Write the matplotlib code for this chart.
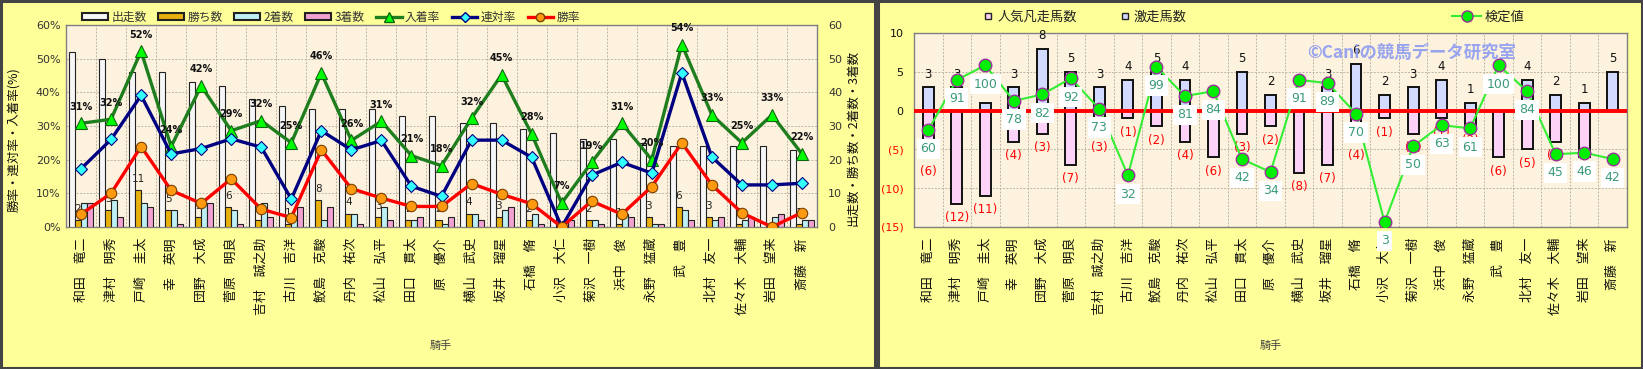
import matplotlib
matplotlib.use('Agg')
import matplotlib.pyplot as plt
from matplotlib.patches import Rectangle, Patch
from matplotlib.lines import Line2D
import numpy as np

plt.rcParams['font.family'] = ['Noto Sans CJK JP', 'DejaVu Sans']

# ---------------- data ----------------
jockeys = ["和田 竜二", "津村 明秀", "戸崎 圭太", "幸 英明", "団野 大成", "菅原 明良",
           "吉村 誠之助", "古川 吉洋", "鮫島 克駿", "丹内 祐次", "松山 弘平", "田口 貫太",
           "原 優介", "横山 武史", "坂井 瑠星", "石橋 脩", "小沢 大仁", "菊沢 一樹",
           "浜中 俊", "永野 猛蔵", "武 豊", "北村 友一", "佐々木 大輔", "岩田 望来", "斎藤 新"]

runs    = [52, 50, 46, 46, 43, 42, 38, 36, 35, 35, 35, 33, 33, 31, 31, 29, 28, 26, 26, 25, 24, 24, 24, 24, 23]
wins    = [2, 5, 11, 5, 3, 6, 2, 1, 8, 4, 3, 2, 2, 4, 3, 2, 0, 2, 1, 3, 6, 3, 1, 0, 1]
seconds = [7, 8, 7, 5, 7, 5, 7, 2, 2, 4, 6, 2, 1, 4, 5, 4, 0, 2, 4, 1, 5, 2, 2, 3, 2]
thirds  = [7, 3, 6, 1, 7, 1, 3, 6, 6, 1, 2, 3, 3, 2, 6, 1, 2, 1, 3, 1, 2, 3, 3, 4, 2]

win_rate    = [3.8, 10.0, 23.9, 10.9, 7.0, 14.3, 5.3, 2.8, 22.9, 11.4, 8.6, 6.1, 6.1, 12.9, 9.7,
               6.9, 0.0, 7.7, 3.8, 12.0, 25.0, 12.5, 4.2, 0.0, 4.3]
rentai_rate = [17.3, 26.0, 39.1, 21.7, 23.3, 26.2, 23.7, 8.3, 28.6, 22.9, 25.7, 12.1, 9.1, 25.8, 25.8,
               20.7, 0.0, 15.4, 19.2, 16.0, 45.8, 20.8, 12.5, 12.5, 13.0]
place_rate  = [30.8, 32.0, 52.2, 23.9, 41.9, 28.6, 31.6, 25.0, 45.7, 25.7, 31.4, 21.2, 18.2, 32.3, 45.2,
               27.6, 7.1, 19.2, 30.8, 20.0, 54.2, 33.3, 25.0, 33.3, 21.7]

gekisou      = [3, 3, 1, 3, 8, 5, 3, 4, 5, 4, 0, 5, 2, 0, 3, 6, 2, 3, 4, 1, 0, 4, 2, 1, 5]
ninki_bonsou = [6, 12, 11, 4, 3, 7, 3, 1, 2, 4, 6, 3, 2, 8, 7, 4, 1, 3, 1, 2, 6, 5, 4, 6, 0]
kentei       = [60, 91, 100, 78, 82, 92, 73, 32, 99, 81, 84, 42, 34, 91, 89, 70, 3, 50, 63, 61, 100, 84, 45, 46, 42]

left_yticks = [0, 10, 20, 30, 40, 50, 60]
right_yticks = [-15, -10, -5, 0, 5, 10]

# ---------------- figure ----------------
W, H = 1643, 369
fig = plt.figure(figsize=(W / 100, H / 100), dpi=100)
fig.patch.set_facecolor('#FFFF99')

def fx(px):
    return px / W

def fy(py):
    return 1 - py / H

PLOT_BG = '#FCF2DE'
GRID_C = '#BDB5A6'
TXT = '#333333'
names_disp = [n.replace(' ', '\u3000') for n in jockeys]
x = np.arange(len(jockeys))

# ================= LEFT CHART =================
ax = fig.add_axes([fx(66), fy(227), fx(817) - fx(66), fy(25) - fy(227)])
ax.set_facecolor(PLOT_BG)
ax.set_xlim(-0.5, len(jockeys) - 0.5)
ax.set_ylim(0, 60)
bw = 0.2
ax.bar(x - 0.3, runs, bw, color='#F6F6F6', edgecolor='#222222', linewidth=0.8, zorder=3)
ax.bar(x - 0.1, wins, bw, color='#E8B00C', edgecolor='#222222', linewidth=0.8, zorder=3)
ax.bar(x + 0.1, seconds, bw, color='#BDEFF4', edgecolor='#222222', linewidth=0.8, zorder=3)
ax.bar(x + 0.3, thirds, bw, color='#F2A2D2', edgecolor='#222222', linewidth=0.8, zorder=3)

ax.plot(x, place_rate, color='#1E7E1E', lw=2.4, marker='^', ms=9,
        mfc='#00FF00', mec='#116611', mew=0.8, zorder=5)
ax.plot(x, rentai_rate, color='#000080', lw=2.4, marker='D', ms=6,
        mfc='#33FFFF', mec='#000080', mew=0.8, zorder=6)
ax.plot(x, win_rate, color='#FF0000', lw=2.4, marker='o', ms=7.5,
        mfc='#FF9A10', mec='#7A4000', mew=0.8, zorder=7)

for i, v in enumerate(place_rate):
    ax.annotate(f"{round(v)}%", (x[i], v), xytext=(0, 12), textcoords='offset points',
                ha='center', va='center', fontsize=7, fontweight='bold', color='#111111',
                family=['DejaVu Sans'], zorder=8)
for i, v in enumerate(wins):
    if v > 0:
        ax.annotate(str(v), (x[i] - 0.1, v), xytext=(0, 8), textcoords='offset points',
                    ha='center', va='center', fontsize=7.5, color='#222222',
                    family=['DejaVu Sans'], zorder=4)

ax.set_yticks(left_yticks)
ax.set_yticklabels([f"{t}%" for t in left_yticks], fontsize=8, color=TXT, family=['DejaVu Sans'])
ax.set_xticks(x)
ax.set_xticklabels(names_disp, rotation=90, fontsize=9.3, color='#111111', va='top', ha='center')
ax.set_xticks(np.arange(-0.5, len(jockeys), 1), minor=True)
ax.tick_params(axis='x', which='both', length=0, pad=8)
ax.tick_params(axis='y', length=0, pad=4)
ax.grid(axis='x', which='minor', color=GRID_C, linestyle=(0, (2, 1.5)), lw=0.7, zorder=1)
ax.grid(axis='y', which='major', color=GRID_C, linestyle=(0, (2, 1.5)), lw=0.7, zorder=1)
ax.set_axisbelow(True)
for s in ax.spines.values():
    s.set_color('#808080')
    s.set_linewidth(1)

ax2 = ax.twinx()
ax2.set_ylim(0, 60)
ax2.set_yticks(left_yticks)
ax2.set_yticklabels([str(t) for t in left_yticks], fontsize=8, color=TXT, family=['DejaVu Sans'])
ax2.tick_params(axis='y', length=0, pad=8)
for s in ax2.spines.values():
    s.set_visible(False)

fig.text(fx(14), fy(140), "勝率・連対率・入着率(%)", rotation=90, ha='center', va='center',
         fontsize=9, color='#111111')
fig.text(fx(853), fy(138), "出走数・勝ち数・2着数・3着数", rotation=90, ha='center', va='center',
         fontsize=9, color='#111111')
fig.text(fx(441), fy(346), "騎手", ha='center', va='center', fontsize=8, color='#444444')

handles_l = [
    Patch(facecolor='#F6F6F6', edgecolor='#222222', lw=1.5, label='出走数'),
    Patch(facecolor='#E8B00C', edgecolor='#222222', lw=1.5, label='勝ち数'),
    Patch(facecolor='#BDEFF4', edgecolor='#222222', lw=1.5, label='2着数'),
    Patch(facecolor='#F2A2D2', edgecolor='#222222', lw=1.5, label='3着数'),
    Line2D([], [], color='#1E7E1E', lw=2.4, marker='^', ms=7, mfc='#00FF00', mec='#116611', label='入着率'),
    Line2D([], [], color='#000080', lw=2.4, marker='D', ms=5, mfc='#33FFFF', mec='#000080', label='連対率'),
    Line2D([], [], color='#FF0000', lw=2.4, marker='o', ms=6, mfc='#FF9A10', mec='#7A4000', label='勝率'),
]
leg = fig.legend(handles=handles_l, loc='center left', bbox_to_anchor=(fx(82), fy(17)),
                 ncol=7, frameon=False, fontsize=8.5, handlelength=2.2, handleheight=0.55,
                 handletextpad=0.3, columnspacing=0.95, borderaxespad=0, borderpad=0)
for t in leg.get_texts():
    t.set_color('#333333')

# ================= RIGHT CHART =================
bx = fig.add_axes([fx(914), fy(227), fx(1627) - fx(914), fy(33) - fy(227)])
bx.set_facecolor(PLOT_BG)
bx.set_xlim(-0.5, len(jockeys) - 0.5)
bx.set_ylim(-15, 10)
neg = [-v for v in ninki_bonsou]
bx.bar(x, gekisou, 0.38, color='#D2DAFF', edgecolor='#111111', linewidth=1.4, zorder=3)
bx.bar(x, neg, 0.38, color='#FCD2F6', edgecolor='#111111', linewidth=1.4, zorder=3)
bx.axhline(0, color='#FF0000', lw=2.8, zorder=4)

for i, v in enumerate(gekisou):
    if v > 0:
        bx.annotate(str(v), (x[i], v), xytext=(0, 9.5), textcoords='offset points',
                    ha='center', va='center', fontsize=8.5, color='#111111',
                    family=['DejaVu Sans'], zorder=4)
for i, v in enumerate(ninki_bonsou):
    if v > 0:
        bx.annotate(f"({v})", (x[i], -v), xytext=(0, -10), textcoords='offset points',
                    ha='center', va='center', fontsize=8.5, color='#FF0000',
                    family=['DejaVu Sans'], zorder=4)

bx.set_yticks(right_yticks)
tl = []
for t in right_yticks:
    tl.append(str(t) if t >= 0 else f"({-t})")
bx.set_yticklabels(tl, fontsize=8, family=['DejaVu Sans'])
for lab, t in zip(bx.get_yticklabels(), right_yticks):
    lab.set_color('#FF0000' if t < 0 else '#111111')
bx.set_xticks(x)
bx.set_xticklabels(names_disp, rotation=90, fontsize=9.3, color='#111111', va='top', ha='center')
bx.set_xticks(np.arange(-0.5, len(jockeys), 1), minor=True)
bx.tick_params(axis='x', which='both', length=0, pad=8)
bx.tick_params(axis='y', length=0, pad=7.5)
bx.grid(axis='x', which='minor', color=GRID_C, linestyle=(0, (2, 1.5)), lw=0.7, zorder=1)
bx.grid(axis='y', which='major', color=GRID_C, linestyle=(0, (2, 1.5)), lw=0.7, zorder=1)
bx.set_axisbelow(True)
for s in bx.spines.values():
    s.set_color('#808080')
    s.set_linewidth(1)

bx2 = bx.twinx()
bx2.set_ylim(0, 120)
bx2.set_yticks([])
for s in bx2.spines.values():
    s.set_visible(False)
bx2.plot(x, kentei, color='#33EE33', lw=1.5, marker='o', ms=9, mfc='#00EE00',
         mec='#993399', mew=1.0, zorder=5)
for i, v in enumerate(kentei):
    bx2.annotate(str(v), (x[i], v), xytext=(0, -13.5), textcoords='offset points',
                 ha='center', va='center', fontsize=9, color='#3A9A7A',
                 family=['DejaVu Sans'], zorder=6,
                 bbox=dict(boxstyle='square,pad=0.3', fc='white', ec='none'))

bx2.text(0.698, 0.895, "©Caniの競馬データ研究室", transform=bx2.transAxes, ha='center', va='center',
         fontsize=12.5, fontweight='bold', color='#8E9CF2', alpha=0.9, zorder=2)

fig.text(fx(1271), fy(346), "騎手", ha='center', va='center', fontsize=8, color='#444444')

handles_r = [
    Line2D([], [], ls='none', marker='s', ms=5, mfc='#FCD2F6', mec='#222222', mew=1.0, label='人気凡走馬数'),
    Line2D([], [], ls='none', marker='s', ms=5, mfc='#D2DAFF', mec='#222222', mew=1.0, label='激走馬数'),
]
leg2 = fig.legend(handles=handles_r, loc='center left', bbox_to_anchor=(fx(983), fy(17)),
                  ncol=2, frameon=False, fontsize=9.5, handlelength=0.8, handletextpad=0.3,
                  columnspacing=3.2, borderaxespad=0, borderpad=0)
leg3 = fig.legend(handles=[Line2D([], [], color='#33EE33', lw=1.5, marker='o', ms=8, mfc='#00EE00',
                                  mec='#993399', label='検定値')],
                  loc='center left', bbox_to_anchor=(fx(1452), fy(17)), frameon=False,
                  fontsize=9.5, handlelength=2.2, handletextpad=0.3, borderaxespad=0, borderpad=0)
for lg in (leg2, leg3):
    for t in lg.get_texts():
        t.set_color('#222222')

# panel borders
fig.add_artist(Rectangle((fx(1), fy(368)), fx(875) - fx(1), fy(1) - fy(368), transform=fig.transFigure,
                         fill=False, ec='#444444', lw=2.2))
fig.add_artist(Rectangle((fx(878), fy(368)), fx(1642) - fx(878), fy(1) - fy(368), transform=fig.transFigure,
                         fill=False, ec='#444444', lw=2.2))

fig.savefig('out.png', dpi=100, facecolor=fig.get_facecolor())
